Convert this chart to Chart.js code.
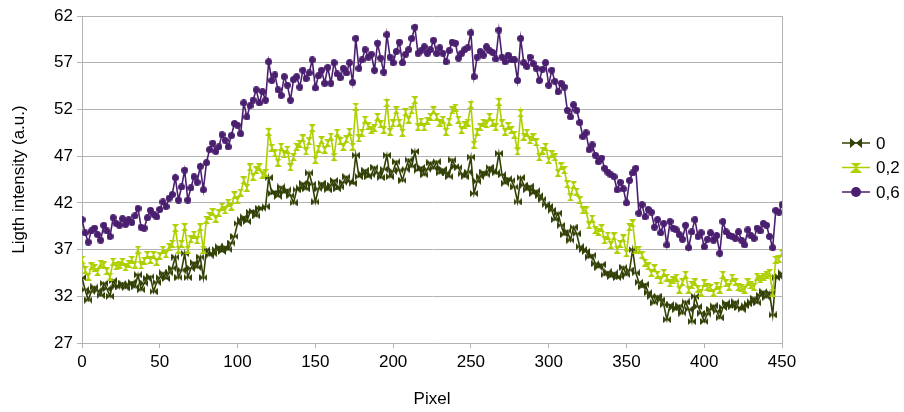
<!DOCTYPE html>
<html>
<head>
<meta charset="utf-8">
<script src="https://cdn.jsdelivr.net/npm/chart.js@4.4.1/dist/chart.umd.min.js"></script>
<style>
  html, body { margin: 0; padding: 0; background: #fff; }
  #wrap { width: 904px; height: 412px; position: relative; }
</style>
</head>
<body>
<div id="wrap"><canvas id="js--chart" width="904" height="412"></canvas></div>
<script>
// pixel positions along the line profile
const pixels = [
  0, 2, 4, 6, 8, 10, 12, 14, 16, 18,
  20, 22, 24, 26, 28, 30, 32, 34, 36, 38,
  40, 42, 44, 46, 48, 50, 52, 54, 56, 58,
  60, 62, 64, 66, 68, 70, 72, 74, 76, 78,
  80, 82, 84, 86, 88, 90, 92, 94, 96, 98,
  100, 102, 104, 106, 108, 110, 112, 114, 116, 118,
  120, 122, 124, 126, 128, 130, 132, 134, 136, 138,
  140, 142, 144, 146, 148, 150, 152, 154, 156, 158,
  160, 162, 164, 166, 168, 170, 172, 174, 176, 178,
  180, 182, 184, 186, 188, 190, 192, 194, 196, 198,
  200, 202, 204, 206, 208, 210, 212, 214, 216, 218,
  220, 222, 224, 226, 228, 230, 232, 234, 236, 238,
  240, 242, 244, 246, 248, 250, 252, 254, 256, 258,
  260, 262, 264, 266, 268, 270, 272, 274, 276, 278,
  280, 282, 284, 286, 288, 290, 292, 294, 296, 298,
  300, 302, 304, 306, 308, 310, 312, 314, 316, 318,
  320, 322, 324, 326, 328, 330, 332, 334, 336, 338,
  340, 342, 344, 346, 348, 350, 352, 354, 356, 358,
  360, 362, 364, 366, 368, 370, 372, 374, 376, 378,
  380, 382, 384, 386, 388, 390, 392, 394, 396, 398,
  400, 402, 404, 406, 408, 410, 412, 414, 416, 418,
  420, 422, 424, 426, 428, 430, 432, 434, 436, 438,
  440, 442, 444, 446, 448, 450
];

const intensity0 = [
  34.0, 32.7, 31.6, 32.5, 33.0, 32.6, 32.1, 33.4, 32.8, 32.0,
  33.7, 33.1, 33.0, 33.4, 32.9, 33.3, 33.5, 33.0, 34.3, 32.7,
  33.4, 33.9, 34.1, 32.5, 33.5, 34.0, 34.5, 33.9, 34.5, 35.0,
  36.2, 34.0, 34.8, 36.6, 34.0, 35.0, 35.6, 35.1, 36.2, 34.0,
  37.0, 36.4, 36.6, 37.0, 37.3, 36.8, 37.3, 37.0, 37.7, 38.4,
  39.8, 40.2, 40.5, 40.0, 41.0, 41.1, 40.6, 41.4, 41.4, 41.6,
  44.7, 43.0, 43.2, 42.7, 43.7, 43.1, 43.4, 42.8, 42.0, 43.4,
  43.6, 44.1, 43.5, 45.2, 44.0, 42.1, 43.5, 44.1, 43.7, 43.4,
  43.9, 44.4, 43.5, 43.7, 44.2, 44.8, 44.3, 44.1, 47.1, 44.8,
  45.1, 45.5, 44.8, 45.0, 45.8, 45.2, 44.7, 45.6, 47.1, 44.8,
  45.4, 46.4, 45.5, 44.4, 45.6, 46.6, 45.9, 47.5, 45.5, 45.8,
  45.0, 45.6, 46.3, 45.7, 46.4, 45.2, 45.6, 45.2, 44.8, 46.6,
  45.9, 45.8, 45.1, 44.8, 45.3, 46.9, 43.0, 44.3, 44.8, 45.3,
  45.0, 45.8, 45.4, 45.2, 47.3, 45.0, 44.1, 44.6, 44.4, 43.7,
  42.1, 44.7, 43.9, 43.4, 43.8, 43.0, 43.3, 42.8, 42.4, 41.8,
  41.6, 41.2, 40.2, 40.9, 39.6, 38.6, 39.0, 38.0, 39.4, 38.7,
  37.3, 37.0, 36.8, 36.2, 36.4, 35.5, 35.1, 35.4, 34.3, 34.6,
  34.1, 34.5, 34.0, 34.1, 35.1, 34.3, 34.8, 37.0, 34.5, 33.5,
  33.0, 33.3, 32.4, 32.0, 31.3, 32.0, 31.6, 31.1, 29.5, 31.1,
  30.8, 30.6, 31.0, 30.2, 31.4, 30.6, 29.3, 32.0, 30.9, 30.2,
  29.3, 30.1, 30.6, 31.0, 30.4, 29.7, 30.8, 31.3, 31.0, 30.9,
  31.4, 30.8, 30.6, 31.0, 31.2, 31.4, 31.8, 31.3, 32.1, 32.5,
  31.9, 32.4, 30.0, 34.0, 34.1, 34.5
];

const intensity02 = [
  35.9, 34.8, 34.1, 35.2, 35.0, 34.6, 35.5, 35.3, 34.7, 34.1,
  35.7, 35.2, 35.4, 35.7, 35.1, 35.5, 35.9, 35.4, 37.0, 35.3,
  35.8, 36.4, 35.9, 36.4, 35.7, 36.3, 37.0, 36.5, 37.3, 37.6,
  39.3, 37.0, 37.6, 39.4, 37.0, 38.1, 38.6, 38.0, 39.4, 37.0,
  40.2, 40.6, 41.0, 40.3, 40.9, 41.6, 41.2, 42.0, 41.6, 42.8,
  42.3, 43.1, 44.4, 43.6, 45.8, 44.8, 45.5, 45.8, 45.0, 45.2,
  49.6, 47.9, 47.3, 46.3, 48.0, 47.2, 47.7, 45.8, 46.9, 48.0,
  48.3, 48.9, 47.5, 48.6, 50.0, 46.6, 47.8, 48.7, 47.7, 48.4,
  49.1, 46.9, 49.5, 48.6, 48.0, 48.8, 49.6, 48.0, 52.3, 48.9,
  49.5, 50.9, 50.2, 49.8, 50.0, 51.2, 50.4, 49.8, 52.7, 49.6,
  50.5, 51.9, 50.6, 49.5, 51.7, 50.9, 51.9, 53.0, 50.1, 50.7,
  50.1, 50.8, 51.2, 51.9, 51.2, 50.6, 50.9, 49.6, 50.7, 51.9,
  52.2, 50.9, 49.8, 50.3, 50.6, 52.5, 48.2, 49.6, 50.1, 50.6,
  50.4, 51.2, 50.6, 50.1, 52.8, 50.5, 49.6, 50.2, 49.8, 49.3,
  47.5, 51.6, 49.1, 49.5, 48.7, 49.0, 48.5, 46.9, 47.6, 48.0,
  46.6, 47.2, 46.9, 45.2, 45.9, 45.5, 44.0, 42.6, 43.9, 43.2,
  42.3, 41.2, 41.2, 39.6, 40.3, 39.1, 38.9, 39.3, 38.0, 38.5,
  37.5, 38.4, 37.0, 37.6, 38.2, 36.6, 39.4, 39.8, 37.0, 37.0,
  36.4, 35.6, 35.2, 34.5, 35.0, 34.3, 33.7, 34.5, 34.0, 33.4,
  33.7, 34.0, 32.7, 33.5, 34.3, 32.7, 33.2, 33.5, 32.8, 32.4,
  33.4, 33.0, 32.9, 32.4, 33.1, 32.7, 34.3, 33.4, 33.0, 34.0,
  33.5, 33.0, 32.9, 32.7, 33.5, 33.2, 33.0, 34.1, 33.8, 34.1,
  34.3, 34.5, 32.4, 35.9, 36.0, 36.6
];

const intensity06 = [
  40.2, 38.8, 37.8, 39.0, 39.3, 38.6, 38.0, 39.6, 39.0, 38.4,
  40.4, 39.8, 39.6, 40.3, 39.7, 40.2, 39.9, 40.6, 41.4, 39.4,
  39.3, 40.4, 41.2, 40.8, 40.5, 41.3, 42.1, 41.6, 42.5, 42.9,
  44.7, 42.3, 43.7, 45.5, 42.3, 43.6, 44.8, 44.2, 45.9, 43.4,
  46.3, 47.7, 48.4, 47.5, 48.0, 49.3, 48.7, 48.0, 49.2, 50.5,
  50.3, 49.4, 52.7, 51.2, 52.4, 53.0, 54.1, 52.7, 53.9, 53.0,
  57.1, 55.1, 55.7, 54.1, 53.5, 55.5, 54.6, 53.0, 55.2, 55.5,
  54.4, 56.2, 55.3, 55.9, 57.3, 54.3, 55.6, 56.2, 54.8, 56.5,
  54.8, 57.0, 55.8, 55.4, 56.4, 55.9, 57.0, 54.9, 59.6, 56.4,
  57.3, 58.4, 57.6, 57.9, 56.2, 59.1, 57.5, 56.0, 60.0, 57.6,
  57.0, 58.2, 59.2, 57.0, 57.9, 58.4, 59.6, 60.8, 58.0, 58.3,
  58.7, 58.0, 58.4, 59.4, 58.0, 58.6, 58.0, 57.1, 58.3, 59.2,
  59.1, 57.5, 58.0, 58.4, 58.6, 60.2, 55.5, 57.6, 58.2, 57.8,
  58.7, 58.3, 58.1, 57.4, 60.5, 57.6, 57.1, 57.8, 57.3, 57.3,
  55.1, 59.6, 57.0, 56.6, 57.6, 56.9, 56.4, 55.1, 56.3, 57.0,
  54.6, 56.2, 55.0, 53.9, 54.8, 54.4, 51.9, 51.2, 52.5, 51.9,
  50.6, 49.1, 49.5, 47.7, 48.2, 47.1, 46.4, 46.8, 45.7, 45.3,
  45.0, 44.8, 43.4, 44.2, 43.5, 42.0, 44.4, 45.2, 45.7, 40.9,
  41.8, 40.5, 41.3, 41.0, 39.4, 40.2, 38.8, 39.8, 37.5, 40.0,
  39.3, 39.1, 38.6, 38.1, 39.6, 37.2, 38.9, 40.2, 38.4, 38.8,
  37.3, 38.1, 38.8, 38.0, 38.5, 36.6, 40.0, 38.9, 38.5, 38.4,
  38.2, 38.9, 38.0, 37.5, 39.1, 38.5, 38.2, 39.3, 39.0, 39.8,
  39.6, 38.4, 37.2, 41.2, 41.0, 41.8
];

const seriesNames = ["0", "0,2", "0,6"];
const seriesColors = ["#314004", "#aecf00", "#4b1f6f"];
const xTicks = [0, 50, 100, 150, 200, 250, 300, 350, 400, 450];
const yTicks = [27, 32, 37, 42, 47, 52, 57, 62];

const FONT = "'Liberation Sans', Arial, sans-serif";
const GRID = "#b3b3b3";

// small canvases used as point styles
const makeMarker = (kind, w, h, color) => {
  const c = document.createElement("canvas");
  c.width = w;
  c.height = h;
  const ctx = c.getContext("2d");
  ctx.fillStyle = color;
  ctx.beginPath();
  if (kind === "bowtie") {
    ctx.moveTo(0, 0); ctx.lineTo(w / 2, h / 2); ctx.lineTo(0, h); ctx.closePath();
    ctx.moveTo(w, 0); ctx.lineTo(w / 2, h / 2); ctx.lineTo(w, h); ctx.closePath();
  } else if (kind === "hourglass") {
    ctx.moveTo(0, 0); ctx.lineTo(w, 0); ctx.lineTo(w / 2, h / 2); ctx.closePath();
    ctx.moveTo(0, h); ctx.lineTo(w, h); ctx.lineTo(w / 2, h / 2); ctx.closePath();
  } else {
    ctx.arc(w / 2, h / 2, w / 2, 0, Math.PI * 2);
  }
  ctx.fill();
  return c;
};

const plotMarkers = [
  makeMarker("bowtie", 8, 7, seriesColors[0]),
  makeMarker("hourglass", 7, 8, seriesColors[1]),
  makeMarker("circle", 7, 7, seriesColors[2])
];
const legendMarkers = [
  makeMarker("bowtie", 12, 10, seriesColors[0]),
  makeMarker("hourglass", 12, 10, seriesColors[1]),
  makeMarker("circle", 10, 10, seriesColors[2])
];

const seriesValues = [intensity0, intensity02, intensity06];

const datasets = seriesValues.map((values, i) => ({
  label: seriesNames[i],
  data: pixels.map((p, j) => ({ x: p, y: values[j] })),
  borderColor: seriesColors[i],
  backgroundColor: seriesColors[i],
  borderWidth: 1.6,
  pointStyle: plotMarkers[i],
  pointRadius: 3,
  pointHoverRadius: 3,
  tension: 0,
  order: 3 - i
}));

// legend on the right: line sample + marker + label
const sideLegend = {
  id: "sideLegend",
  afterDraw(chart) {
    const { ctx, chartArea } = chart;
    const lineStart = chartArea.right + 60;
    const lineEnd = lineStart + 28;
    const midY = (chartArea.top + chartArea.bottom) / 2 - 12;
    ctx.save();
    ctx.font = "17px " + FONT;
    ctx.textBaseline = "middle";
    ctx.textAlign = "left";
    seriesNames.forEach((name, i) => {
      const y = midY + (i - 1) * 24.5;
      ctx.strokeStyle = seriesColors[i];
      ctx.lineWidth = 1.5;
      ctx.beginPath();
      ctx.moveTo(lineStart, y);
      ctx.lineTo(lineEnd, y);
      ctx.stroke();
      const m = legendMarkers[i];
      ctx.drawImage(m, (lineStart + lineEnd) / 2 - m.width / 2, y - m.height / 2);
      ctx.fillStyle = "#000";
      ctx.fillText(name, lineEnd + 6, y + 1);
    });
    ctx.restore();
  }
};

const config = {
  type: "line",
  data: { datasets: datasets },
  options: {
    responsive: false,
    animation: false,
    devicePixelRatio: 1,
    layout: { padding: { top: 16, right: 122, left: 0, bottom: 0 } },
    plugins: {
      legend: { display: false },
      tooltip: { enabled: false }
    },
    scales: {
      x: {
        type: "linear",
        min: 0,
        max: 450,
        afterBuildTicks: (axis) => { axis.ticks = xTicks.map(v => ({ value: v })); },
        afterFit: (scale) => { scale.height = 69; },
        grid: {
          drawOnChartArea: true,
          color: (c) => (c.tick && c.tick.value === 450 ? GRID : "rgba(0,0,0,0)"),
          tickColor: GRID,
          tickLength: 5
        },
        border: { color: GRID },
        ticks: {
          color: "#000",
          font: { family: FONT, size: 17 },
          padding: 4,
          maxRotation: 0
        },
        title: {
          display: true,
          text: "Pixel",
          color: "#000",
          font: { family: FONT, size: 17 },
          padding: { top: 0, bottom: 2 }
        }
      },
      y: {
        min: 27,
        max: 62,
        afterBuildTicks: (axis) => { axis.ticks = yTicks.map(v => ({ value: v })); },
        afterFit: (scale) => { scale.width = 82; },
        grid: {
          color: GRID,
          tickColor: GRID,
          tickLength: 5
        },
        border: { color: GRID },
        ticks: {
          color: "#000",
          font: { family: FONT, size: 17 },
          padding: 4
        },
        title: {
          display: true,
          text: "Ligth intensity (a.u.)",
          color: "#000",
          font: { family: FONT, size: 17 },
          padding: { top: 9, bottom: 0 }
        }
      }
    }
  },
  plugins: [sideLegend]
};

const lightChart = new Chart(document.getElementById("js--chart"), config);
</script>
</body>
</html>
